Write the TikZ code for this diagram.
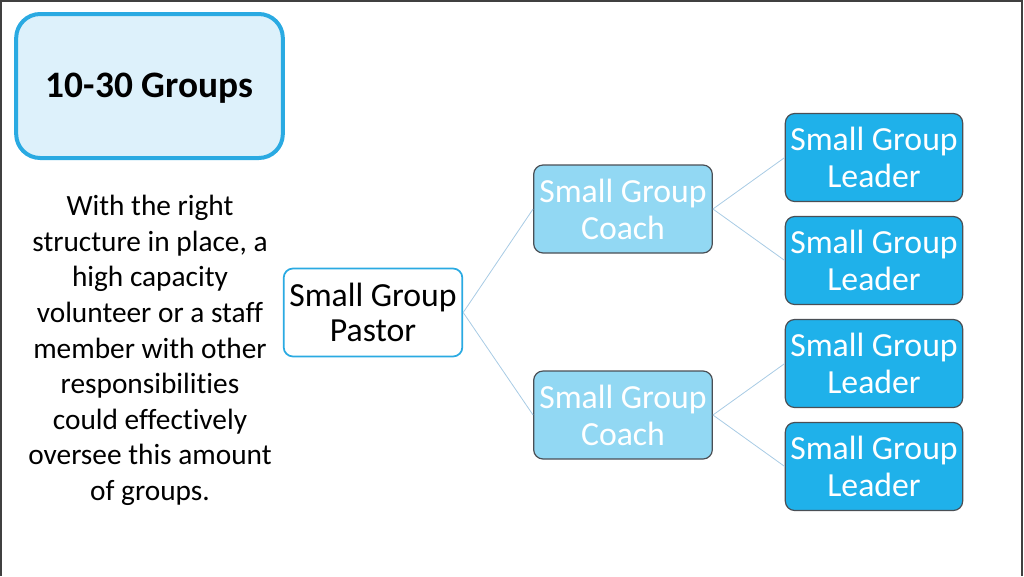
\documentclass[tikz,border=0pt]{standalone}
\usepackage{fontspec}
\setmainfont{Carlito}[Ligatures=NoCommon]
\usetikzlibrary{positioning, calc}
\definecolor{titleline}{HTML}{2AAAE2}
\definecolor{titlefill}{HTML}{DDF1FB}
\definecolor{coachfill}{HTML}{92D8F3}
\definecolor{leaderfill}{HTML}{1FB1EA}
\definecolor{boxline}{HTML}{4A4F55}
\definecolor{linkline}{HTML}{A8CBE4}
\colorlet{frameline}{black!75}

\begin{document}
\begin{tikzpicture}[
    x=0.75pt, y=-0.75pt,
    titlebox/.style={rounded corners=18pt, draw=titleline, line width=3pt,
                     fill=titlefill, minimum width=200pt, minimum height=108pt,
                     inner sep=0pt, text height=17.7pt, text depth=0pt,
                     font=\fontsize{28}{32}\selectfont\bfseries},
    notetext/.style={align=center, inner sep=0pt,
                     font=\fontsize{22}{26.7}\selectfont},
    pastorbox/.style={rounded corners=7pt, draw=titleline, line width=1.3pt,
                      fill=white, minimum width=134pt, minimum height=66pt,
                      inner sep=0pt, align=center,
                      font=\fontsize{25.3}{26.5}\selectfont},
    coachbox/.style={rounded corners=7pt, draw=boxline, line width=0.9pt,
                     fill=coachfill, text=white, minimum width=134pt,
                     minimum height=66pt, inner sep=0pt, align=center,
                     font=\fontsize{25.3}{27.7}\selectfont},
    leaderbox/.style={coachbox, fill=leaderfill, minimum width=133pt},
    link/.style={draw=linkline, line width=0.6pt},
]

\useasboundingbox (0,0) rectangle (1024,576);

% ── page frame ──
\draw[frameline, line width=1.5pt] (1,576) -- (1,1) -- (1022,1) -- (1022,576);

% ════════════════════════════════════════════════════════════
% LEFT COLUMN: heading and note
% ════════════════════════════════════════════════════════════
\node[titlebox] (title) at (149.5, 86) {10-30 Groups};

\node[notetext] (note) at (150, 350.5)
    {With the right\\
     structure in place, a\\
     high capacity\\
     volunteer or a staff\\
     member with other\\
     responsibilities\\
     could effectively\\
     oversee this amount\\
     of groups.};

% ════════════════════════════════════════════════════════════
% RIGHT SIDE: the structure
% ════════════════════════════════════════════════════════════
\def\cx{623}
\def\lx{874}

\node[pastorbox] (pastor) at (373, 312.5) {Small Group\\Pastor};

\node[coachbox] (coach1) at (\cx, 209) {Small Group\\Coach};
\node[coachbox] (coach2) at (\cx, 415) {Small Group\\Coach};

\node[leaderbox] (lead1) at (\lx, 157.5) {Small Group\\Leader};
\node[leaderbox] (lead2) at (\lx, 260.5) {Small Group\\Leader};
\node[leaderbox] (lead3) at (\lx, 363.5) {Small Group\\Leader};
\node[leaderbox] (lead4) at (\lx, 466.5) {Small Group\\Leader};

% ── connectors ──
\draw[link] (pastor.east) -- (coach1.west);
\draw[link] (pastor.east) -- (coach2.west);
\draw[link] (coach1.east) -- (lead1.west);
\draw[link] (coach1.east) -- (lead2.west);
\draw[link] (coach2.east) -- (lead3.west);
\draw[link] (coach2.east) -- (lead4.west);

\end{tikzpicture}
\end{document}
